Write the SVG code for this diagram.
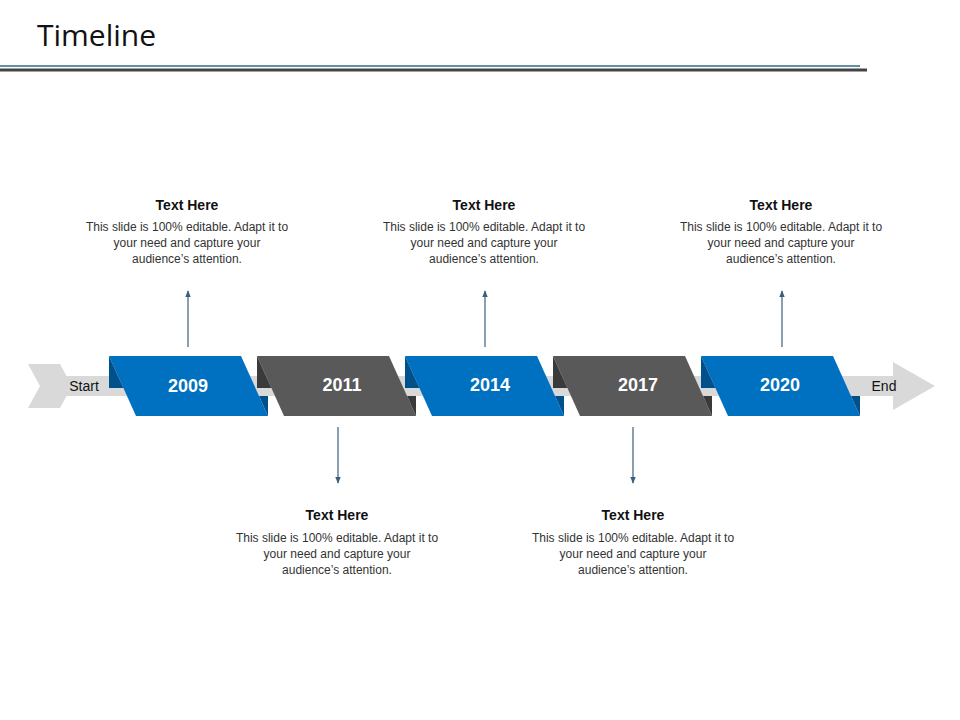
<svg xmlns="http://www.w3.org/2000/svg" width="960" height="720" viewBox="0 0 960 720">
<defs>
<style>
.t{font-family:"Liberation Sans",Arial,sans-serif;text-anchor:middle}
.h{font-size:14px;font-weight:bold;fill:#111}
.b{font-size:12px;fill:#333}
.y{font-size:18px;font-weight:bold;fill:#fff}
.lbl{font-size:14px;fill:#111}
.blue{fill:#0070C0}.blued{fill:#00508C}
.gray{fill:#595959}.grayd{fill:#3A3A3A}
.con{stroke:#3B5F7A;stroke-width:1.2;fill:none;marker-end:url(#ah)}
</style>
<marker id="ah" viewBox="0 0 10 10" refX="9" refY="5" markerWidth="6" markerHeight="6" orient="auto"><path d="M0,1 L10,5 L0,9 z" fill="#3B5F7A"/></marker>
</defs>
<rect width="960" height="720" fill="#fff"/>
<text x="37" y="46" font-family="'Open Sans','Liberation Sans',sans-serif" font-size="30" fill="#111">Timeline</text>
<line x1="0" y1="66" x2="860" y2="66" stroke="#2E6A86" stroke-width="1.5"/>
<line x1="0" y1="70" x2="867" y2="70" stroke="#444" stroke-width="3"/>
<g id="band">
<polygon points="28,364 60,364 72,386 60,408 28,408 40,386" fill="#D9D9D9"/>
<rect x="60" y="376" width="835" height="20" fill="#D9D9D9"/>
<polygon points="893,362 935,386 893,410" fill="#D9D9D9"/>
<text class="t lbl" x="84" y="391">Start</text>
<text class="t lbl" x="884" y="391">End</text>
</g>
<g id="y2009"><polygon class="blue" points="109,356 241,356 268,416 136,416"/><polygon class="blued" points="109,356 109,388 123.4,388"/><polygon class="blued" points="259,396 268,396 268,416"/><text class="t y" x="188" y="392">2009</text></g>
<g id="y2011"><polygon class="gray" points="257,356 389,356 416,416 284,416"/><polygon class="grayd" points="257,356 257,388 271.4,388"/><polygon class="grayd" points="407,396 416,396 416,416"/><text class="t y" x="342" y="391">2011</text></g>
<g id="y2014"><polygon class="blue" points="405,356 537,356 564,416 432,416"/><polygon class="blued" points="405,356 405,388 419.4,388"/><polygon class="blued" points="555,396 564,396 564,416"/><text class="t y" x="490" y="391">2014</text></g>
<g id="y2017"><polygon class="gray" points="553,356 685,356 712,416 580,416"/><polygon class="grayd" points="553,356 553,388 567.4,388"/><polygon class="grayd" points="703,396 712,396 712,416"/><text class="t y" x="638" y="391">2017</text></g>
<g id="y2020"><polygon class="blue" points="701,356 833,356 860,416 728,416"/><polygon class="blued" points="701,356 701,388 715.4,388"/><polygon class="blued" points="851,396 860,396 860,416"/><text class="t y" x="780" y="391">2020</text></g>
<g id="connectors">
<line class="con" x1="188" y1="347" x2="188" y2="291"/>
<line class="con" x1="485" y1="347" x2="485" y2="291"/>
<line class="con" x1="782" y1="347" x2="782" y2="291"/>
<line class="con" x1="338" y1="427" x2="338" y2="483"/>
<line class="con" x1="633" y1="427" x2="633" y2="483"/>
</g>
<g id="txt1"><text class="t h" x="187" y="210">Text Here</text><text class="t b" x="187" y="231">This slide is 100% editable. Adapt it to</text><text class="t b" x="187" y="247">your need and capture your</text><text class="t b" x="187" y="263">audience’s attention.</text></g>
<g id="txt2"><text class="t h" x="484" y="210">Text Here</text><text class="t b" x="484" y="231">This slide is 100% editable. Adapt it to</text><text class="t b" x="484" y="247">your need and capture your</text><text class="t b" x="484" y="263">audience’s attention.</text></g>
<g id="txt3"><text class="t h" x="781" y="210">Text Here</text><text class="t b" x="781" y="231">This slide is 100% editable. Adapt it to</text><text class="t b" x="781" y="247">your need and capture your</text><text class="t b" x="781" y="263">audience’s attention.</text></g>
<g id="txt4"><text class="t h" x="337" y="520">Text Here</text><text class="t b" x="337" y="542">This slide is 100% editable. Adapt it to</text><text class="t b" x="337" y="558">your need and capture your</text><text class="t b" x="337" y="574">audience’s attention.</text></g>
<g id="txt5"><text class="t h" x="633" y="520">Text Here</text><text class="t b" x="633" y="542">This slide is 100% editable. Adapt it to</text><text class="t b" x="633" y="558">your need and capture your</text><text class="t b" x="633" y="574">audience’s attention.</text></g>
</svg>
